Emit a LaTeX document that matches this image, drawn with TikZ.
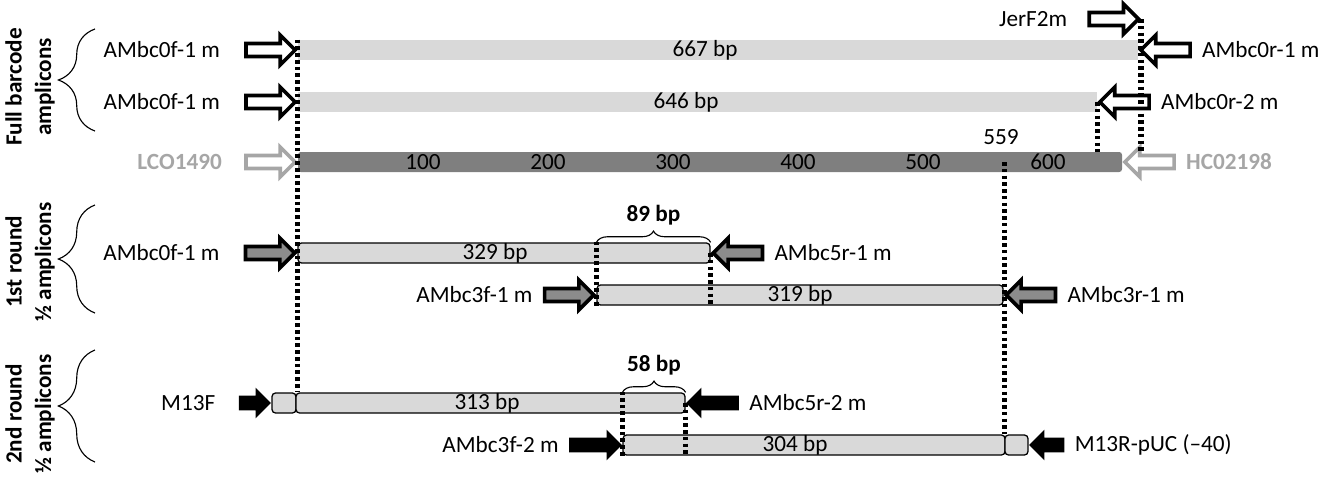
\documentclass[tikz,border=0pt]{standalone}
\usepackage{fontspec}
\setmainfont{Carlito}
\usepackage{tikz}
\usetikzlibrary{shapes.arrows, positioning, fit, decorations.pathreplacing}
\definecolor{barLight}{RGB}{217,217,217}
\definecolor{barDark}{RGB}{127,127,127}
\definecolor{primerGray}{RGB}{166,166,166}

\begin{document}
\begin{tikzpicture}[x=0.025cm, y=-0.025cm, font=\fontsize{16.5}{21}\selectfont,
  popen/.style={single arrow, draw=black, fill=white, line width=2.6pt, inner xsep=0pt,
                inner ysep=0.116cm, minimum height=1.23cm, single arrow head extend=0.21cm},
  pgrey/.style={popen, draw=primerGray},
  pfill/.style={popen, fill=gray!90},
  psolid/.style={single arrow, fill=black, inner xsep=0pt, inner ysep=0.175cm,
                 minimum height=1.32cm, single arrow head extend=0.2cm},
  rev/.style={shape border rotate=180},
  fullbar/.style={fill=barLight, inner sep=0pt},
  halfbar/.style={draw=black, fill=barLight, line width=0.9pt, rounded corners=2.5pt, inner sep=0pt},
  lbl/.style={inner sep=0pt},
  bplbl/.style={inner sep=0pt, font=\fontsize{16.5}{21}\selectfont\bfseries},
  side/.style={align=center, rotate=90, inner sep=0pt, font=\fontsize{16.5}{21}\selectfont\bfseries},
  dotline/.style={draw=black, line width=3.6pt, dash pattern=on 2.6pt off 2.2pt},
  sidebrace/.style={decorate, decoration={brace, amplitude=26pt}, line width=0.8pt},
  topbrace/.style={decorate, decoration={brace, amplitude=8pt}, line width=0.8pt}]

  \useasboundingbox (0,0) rectangle (1325,481);

  % full barcode amplicons
  \node[fullbar, fit={(298,40) (1138,60)}] (b667) {};
  \node[fullbar, fit={(298,92) (1097,112)}] (b646) {};
  \node[fill=barDark, rounded corners=2pt, inner sep=0pt, fit={(298,152) (1122,172)}] (ruler) {};
  \node[lbl] (t667) at (705,50) {667 bp};
  \node[lbl] (t646) at (686,102) {646 bp};
  \foreach \n [count=\i] in {100,200,...,600}
    \node[lbl] (tick\i) at (298+\i*125,162) {\n};
  \node[lbl] (t559) at (1001,137) {559};

  \node[popen, anchor=tip] (f1) at (b667.west) {};
  \node[popen, anchor=tip] (f2) at (b646.west) {};
  \node[pgrey, anchor=tip] (lco) at (ruler.west) {};
  \node[popen, rev, anchor=tip] (r1) at (b667.east) {};
  \node[popen, rev, anchor=tip] (r2) at (b646.east) {};
  \node[pgrey, rev, anchor=tip] (hco) at (ruler.east) {};
  \node[popen, anchor=tip] (jer) at (1141,19) {};

  \node[lbl, left=0.6cm of f1.tail] (tf1) {AMbc0f-1 m};
  \node[lbl, left=0.6cm of f2.tail] (tf2) {AMbc0f-1 m};
  \node[lbl, left=0.55cm of lco.tail, text=primerGray, font=\fontsize{16.5}{21}\selectfont\bfseries] (tlco) {LCO1490};
  \node[lbl, right=0.25cm of r1.tail] (tr1) {AMbc0r-1 m};
  \node[lbl, right=0.25cm of r2.tail] (tr2) {AMbc0r-2 m};
  \node[lbl, right=0.25cm of hco.tail, text=primerGray, font=\fontsize{16.5}{21}\selectfont\bfseries] (thco) {HC02198};
  \node[lbl, left=0.5cm of jer.tail] (tjer) {JerF2m};

  % half amplicons
  \node[halfbar, fit={(298,243) (710,263)}] (b329) {};
  \node[halfbar, fit={(597,285) (1003,305)}] (b319) {};
  \node[halfbar, fit={(272,393) (296,413)}] (m13f) {};
  \node[halfbar, fit={(296,393) (685,413)}] (b313) {};
  \node[halfbar, fit={(623,435) (1005,455)}] (b304) {};
  \node[halfbar, fit={(1005,435) (1028,455)}] (m13r) {};
  \node[lbl] (t329) at (495,253) {329 bp};
  \node[lbl] (t319) at (800,295) {319 bp};
  \node[lbl] (t313) at (487,403) {313 bp};
  \node[lbl] (t304) at (795,445) {304 bp};

  \node[pfill, anchor=tip] (f3) at (b329.west) {};
  \node[pfill, rev, anchor=tip] (r5) at (b329.east) {};
  \node[pfill, anchor=tip] (f31) at (b319.west) {};
  \node[pfill, rev, anchor=tip] (r31) at (b319.east) {};
  \node[psolid, minimum height=0.8cm, anchor=tip] (m13fp) at (m13f.west) {};
  \node[psolid, rev, anchor=tip] (r52) at (b313.east) {};
  \node[psolid, anchor=tip] (f32) at (b304.west) {};
  \node[psolid, rev, minimum height=0.88cm, anchor=tip] (m13rp) at (m13r.east) {};

  \node[lbl, left=0.6cm of f3.tail] (tf3) {AMbc0f-1 m};
  \node[lbl, right=0.25cm of r5.tail] (tr5) {AMbc5r-1 m};
  \node[lbl, left=0.25cm of f31.tail] (tf31) {AMbc3f-1 m};
  \node[lbl, right=0.25cm of r31.tail] (tr31) {AMbc3r-1 m};
  \node[lbl, left=0.58cm of m13fp.tail] (tm13f) {M13F};
  \node[lbl, right=0.25cm of r52.tail] (tr52) {AMbc5r-2 m};
  \node[lbl, left=0.25cm of f32.tail] (tf32) {AMbc3f-2 m};
  \node[lbl, right=0.25cm of m13rp.tail] (tm13r) {M13R-pUC (--40)};

  % dotted guides
  \draw[dotline] (b667.north west) -- (b667.north west |- b313.north);
  \draw[dotline] (jer.tip) -- (jer.tip |- ruler.north);
  \draw[dotline] (r2.tip) -- (r2.tip |- ruler.north);
  \draw[dotline] (m13r.north west |- ruler.center) -- (m13r.north west);
  \draw[dotline] (b319.south west) -- (b319.south west |- b329.north);
  \draw[dotline] (b329.east) -- (b329.east |- b319.south);
  \draw[dotline] (b304.south west) -- (b304.south west |- b313.north);
  \draw[dotline] (b313.east) -- (b313.east |- b304.south);

  % overlaps
  \draw[topbrace] (b319.north west |- b329.north) -- (b329.north east)
    node[bplbl, midway, above=12pt] (t89) {89 bp};
  \draw[topbrace] (b304.north west |- b313.north) -- (b313.north east)
    node[bplbl, midway, above=12pt] (t58) {58 bp};

  % groups
  \draw[sidebrace] (95,131) -- (95,29);
  \draw[sidebrace] (95,313) -- (95,205);
  \draw[sidebrace] (95,462) -- (95,350);
  \node[side] (s1) at (30,87) {Full barcode\\amplicons};
  \node[side] (s2) at (30,262) {1st round\\½ amplicons};
  \node[side] (s3) at (30,414) {2nd round\\½ amplicons};

\end{tikzpicture}
\end{document}
